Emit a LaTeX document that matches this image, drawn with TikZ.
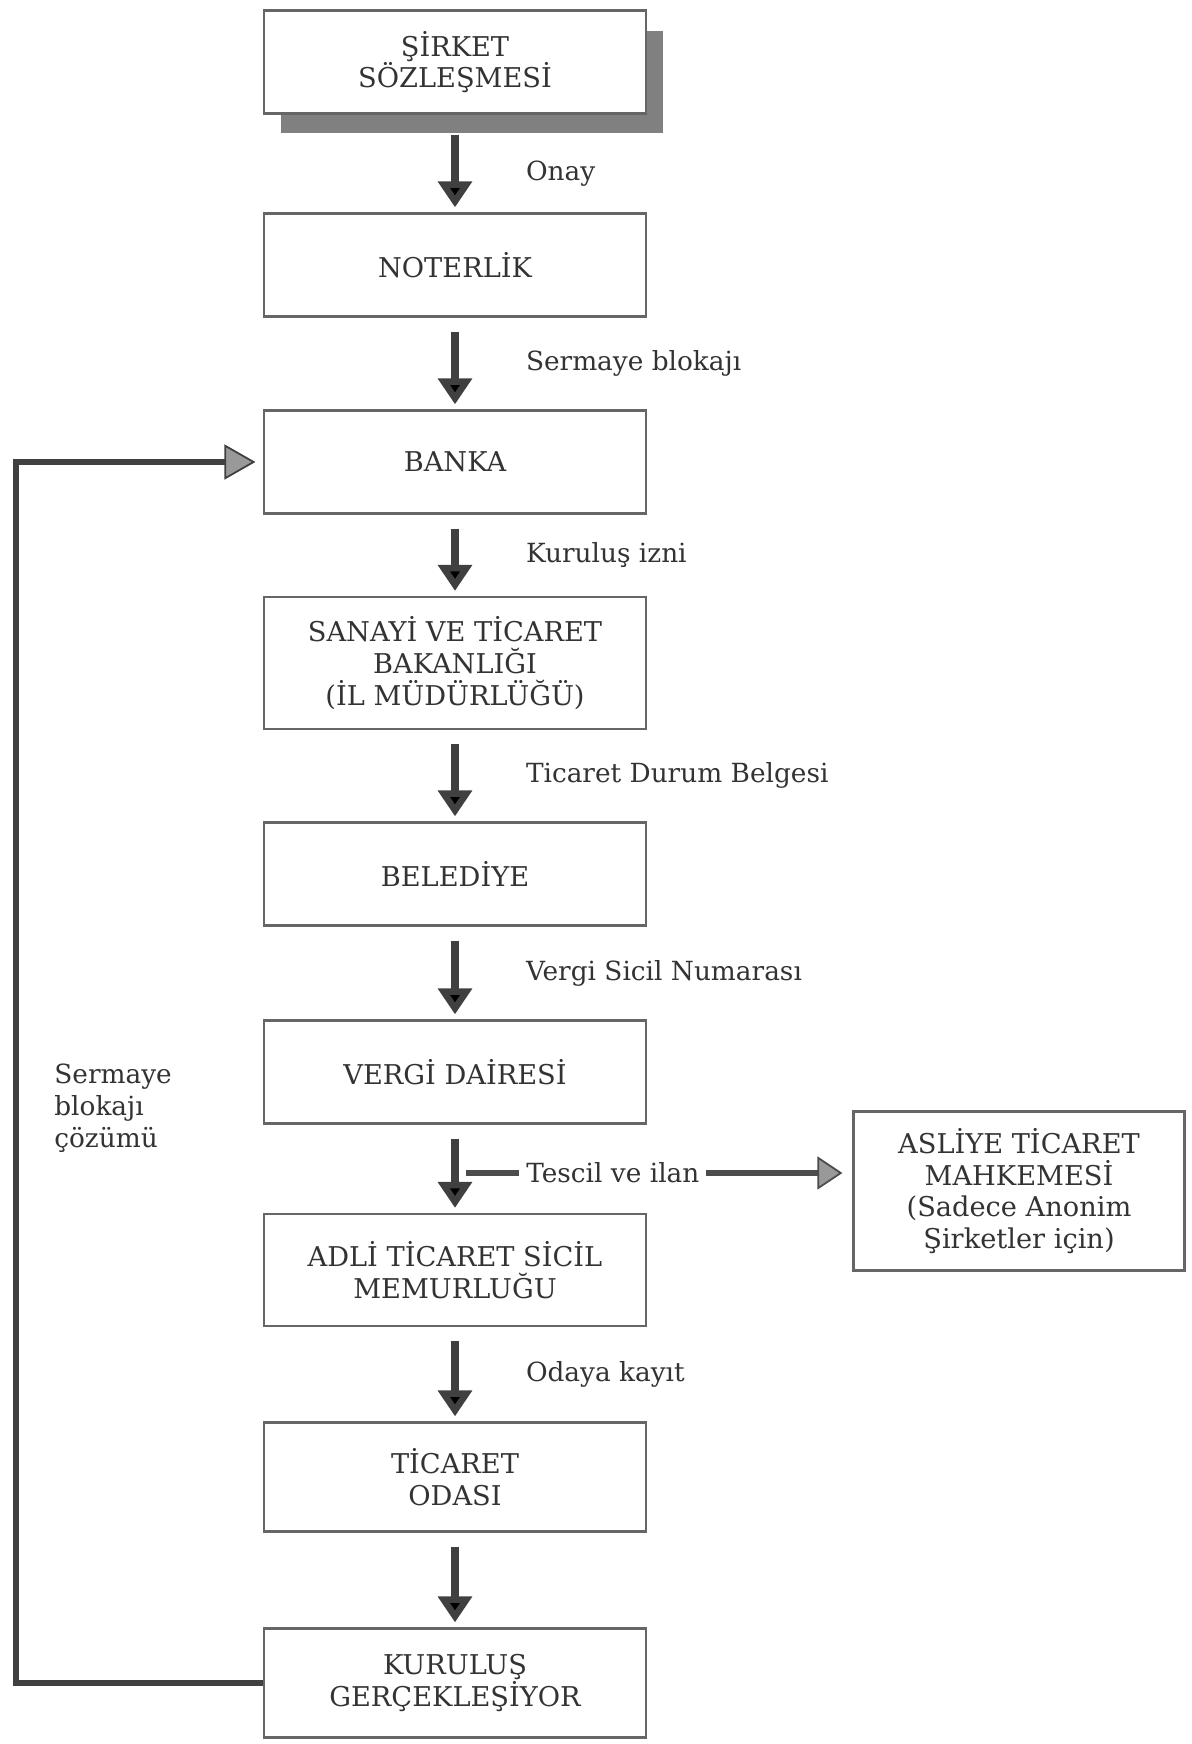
\documentclass[tikz,border=0pt]{standalone}
\usepackage{fontspec}
\setmainfont{DejaVu Serif}
\usetikzlibrary{arrows.meta,shadows}

\begin{document}
\begin{tikzpicture}[x=0.02cm,y=-0.02cm, bnode/.style={draw=black!60, line width=1.3pt, fill=white, text=black!80, minimum width=7.64cm, minimum height=2.06cm, align=center, font=\fontsize{15.5}{18}\selectfont}, lnode/.style={right, inner sep=0pt, xshift=1.35cm, text=black!80, font=\fontsize{15}{18}\selectfont}, tnode/.style={inner sep=0pt, text=black!80, font=\fontsize{15}{18}\selectfont}, flow/.style={-{Triangle[width=0.66cm,length=0.52cm]}, line width=4pt, draw=black!75, shorten <=0.28cm, shorten >=0.1cm}]
    \useasboundingbox (0,0) rectangle (1191,1744);
    \node[bnode, drop shadow={shadow xshift=0.34cm, shadow yshift=-0.4cm, fill=black!50, opacity=1}] (sirket) at (455,62) {ŞİRKET\\SÖZLEŞMESİ};
    \node[bnode] (noter) at (455,265) {NOTERLİK};
    \node[bnode] (banka) at (455,462) {BANKA};
    \node[bnode, minimum height=2.64cm] (sanayi) at (455,663) {SANAYİ VE TİCARET\\BAKANLIĞI\\(İL MÜDÜRLÜĞÜ)};
    \node[bnode] (beled) at (455,874) {BELEDİYE};
    \node[bnode] (vergi) at (455,1072) {VERGİ DAİRESİ};
    \node[bnode, minimum height=2.24cm] (adli) at (455,1270) {ADLİ TİCARET SİCİL\\MEMURLUĞU};
    \node[bnode, minimum height=2.18cm] (oda) at (455,1477) {TİCARET\\ODASI};
    \node[bnode, minimum height=2.18cm] (kurulus) at (455,1683) {KURULUŞ\\GERÇEKLEŞİYOR};
    \node[bnode, minimum width=6.62cm, minimum height=3.18cm] (asliye) at (1019,1191) {ASLİYE TİCARET\\MAHKEMESİ\\(Sadece Anonim\\Şirketler için)};
    \node[tnode, anchor=north west, align=left] (cozum) at (54,1064) {Sermaye\\blokajı\\çözümü};

    \draw[flow, shorten <=0.4cm] (sirket) edge node[lnode, pos=0.6] {Onay} (noter);
    \draw[flow] (noter) edge node[lnode] {Sermaye blokajı} (banka);
    \draw[flow] (banka) edge node[lnode] {Kuruluş izni} (sanayi);
    \draw[flow] (sanayi) edge node[lnode] {Ticaret Durum Belgesi} (beled);
    \draw[flow] (beled) edge node[lnode] {Vergi Sicil Numarası} (vergi);
    \draw[flow] (vergi) edge (adli);
    \draw[flow] (adli) edge node[lnode] {Odaya kayıt} (oda);
    \draw[flow] (oda) edge (kurulus);

    % tescil ve ilan
    \coordinate (tes) at (466,1173);
    \draw[-{Triangle[width=0.66cm,length=0.5cm,line width=1pt,fill=black!40]}, line width=3pt, draw=black!70, shorten >=0.2cm] (tes) -- node[tnode, pos=0.38, fill=white, inner xsep=4pt, inner ysep=2pt] (tescil) {Tescil ve ilan} (tes -| asliye.west);

    % sermaye blokaji cozumu
    \draw[-{Triangle[width=0.7cm,length=0.62cm,line width=1pt,fill=black!40]}, line width=3.5pt, draw=black!75, shorten >=0.15cm] (kurulus.west) -- ++(-247,0) |- (banka.west);
\end{tikzpicture}
\end{document}
